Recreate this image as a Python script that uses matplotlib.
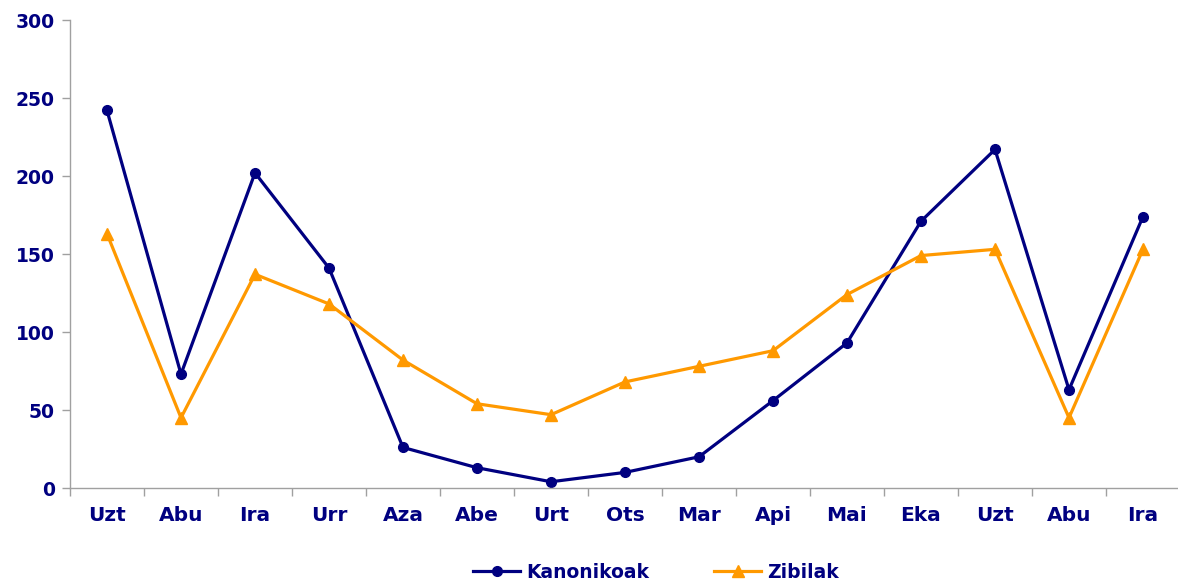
import matplotlib
matplotlib.use("Agg")
import matplotlib.pyplot as plt
import numpy as np

plt.rcParams["font.family"] = ["DejaVu Sans"]

months = ["Uzt", "Abu", "Ira", "Urr", "Aza", "Abe", "Urt", "Ots", "Mar", "Api", "Mai", "Eka", "Uzt", "Abu", "Ira"]
kanonikoak = [242, 73, 202, 141, 26, 13, 4, 10, 20, 56, 93, 171, 217, 63, 174]
zibilak = [163, 45, 137, 118, 82, 54, 47, 68, 78, 88, 124, 149, 153, 45, 153]
yticks = [0, 50, 100, 150, 200, 250, 300]

navy = "#000080"
orange = "#FF9900"
grey = "#A0A0A0"

fig = plt.figure(figsize=(11.78, 5.81), dpi=100)
ax = fig.add_axes([70/1178, 1-488/581, 1110/1178, 468/581])

x = np.arange(len(months))
l1, = ax.plot(x, kanonikoak, color=navy, lw=2.3, marker="o", ms=7, label="Kanonikoak", clip_on=False)
l2, = ax.plot(x, zibilak, color=orange, lw=2.3, marker="^", ms=8, label="Zibilak", clip_on=False)

ax.set_xlim(-0.5, len(months) - 0.5)
ax.set_ylim(0, 300)
ax.set_yticks(yticks)
ax.set_xticks(x)
ax.set_xticklabels(months)
ax.set_xticks(np.arange(-0.5, len(months), 1), minor=True)
ax.tick_params(axis="x", which="major", length=0, pad=13, labelsize=14.5, labelcolor=navy)
ax.tick_params(axis="x", which="minor", length=6, color=grey, width=1)
ax.tick_params(axis="y", length=6, color=grey, width=1, pad=5, labelsize=13.5, labelcolor=navy)
for lab in ax.get_xticklabels() + ax.get_yticklabels():
    lab.set_fontweight("bold")
for s in ["top", "right"]:
    ax.spines[s].set_visible(False)
for s in ["left", "bottom"]:
    ax.spines[s].set_color(grey)
    ax.spines[s].set_linewidth(1)

leg = fig.legend(handles=[l1, l2], loc="center", bbox_to_anchor=(656/1178, 1-572/581),
                 ncol=2, frameon=False, columnspacing=3.5, handlelength=2.5, handletextpad=0.3,
                 prop={"weight": "bold", "size": 13.5})
for t in leg.get_texts():
    t.set_color(navy)

fig.savefig("out.png", dpi=100)
